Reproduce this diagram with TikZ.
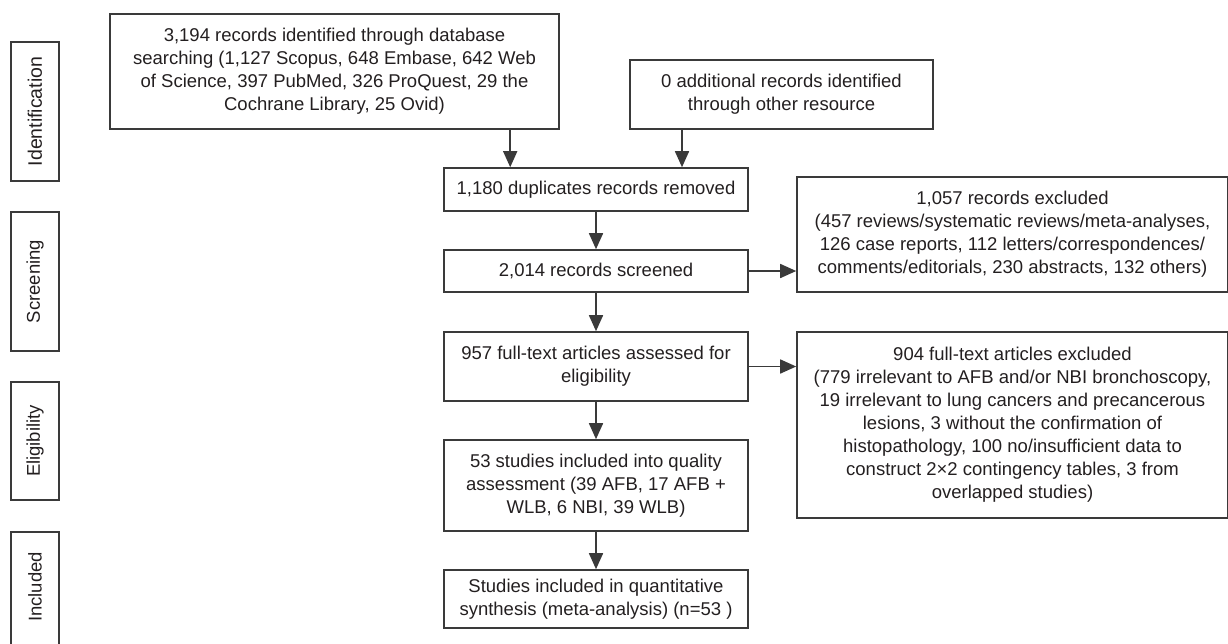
\documentclass[tikz,border=0pt]{standalone}
\usepackage{fontspec}
\setmainfont{Liberation Sans}
\usetikzlibrary{arrows.meta}
\definecolor{ink}{HTML}{231F20}
\definecolor{edge}{HTML}{3A3A3A}
\begin{document}
\begin{tikzpicture}[x=1pt,y=-1pt,
  box/.style={draw=edge,line width=1.6pt,rectangle,inner sep=0pt,align=center,
    text=ink,font=\fontsize{18.5}{23}\selectfont},
  side/.style={draw=edge,line width=1.6pt,rectangle,inner sep=0pt,
    text=ink,font=\fontsize{18.5}{23}\selectfont},
  arr/.style={draw=edge,line width=1.6pt,-{Triangle[length=16pt,width=14pt]}}]
\useasboundingbox (0,0) rectangle (1228,643);
% phase boxes
\node[side,minimum width=48pt,minimum height=139pt] (ident) at (35,111.5) {};
\node[rotate=90,text=ink,font=\fontsize{19.5}{23}\selectfont] (identl) at (ident.center) {Identification};
\node[side,minimum width=48pt,minimum height=139pt] (scr) at (35,281.5) {};
\node[rotate=90,text=ink,font=\fontsize{18.5}{23}\selectfont] (scrl) at (scr.center) {Screening};
\node[side,minimum width=48pt,minimum height=118pt] (elig) at (35,441) {};
\node[rotate=90,text=ink,font=\fontsize{18.5}{23}\selectfont] (eligl) at (elig.center) {Eligibility};
\node[side,minimum width=48pt,minimum height=114pt] (incl) at (35,589) {};
\node[rotate=90,text=ink,font=\fontsize{18.5}{23}\selectfont] (incll) at (35,587) {Included};
% flow boxes
\node[box,minimum width=449pt,minimum height=115pt] (db) at (334.5,71.5)
 {3,194 records identified through database\\searching (1,127 Scopus, 648 Embase, 642 Web\\of Science, 397 PubMed, 326 ProQuest, 29 the\\Cochrane Library, 25 Ovid)};
\node[box,minimum width=303pt,minimum height=69pt] (other) at (781.5,94.5)
 {0 additional records identified\\through other resource};
\node[box,minimum width=304pt,minimum height=43pt] (dup) at (596,189.5)
 {1,180 duplicates records removed};
\node[box,minimum width=304pt,minimum height=42pt] (scrd) at (596,271)
 {2,014 records screened};
\node[box,minimum width=431pt,minimum height=115pt] (ex1) at (1012.5,234.5)
 {1,057 records excluded\\(457 reviews/systematic reviews/meta-analyses,\\126 case reports, 112 letters/correspondences/\\comments/editorials, 230 abstracts, 132 others)};
\node[box,minimum width=304pt,minimum height=69pt] (full) at (596,366.5)
 {957 full-text articles assessed for\\eligibility};
\node[box,minimum width=431pt,minimum height=186pt] (ex2) at (1012.5,425)
 {904 full-text articles excluded\\(779 irrelevant to AFB and/or NBI bronchoscopy,\\19 irrelevant to lung cancers and precancerous\\lesions, 3 without the confirmation of\\histopathology, 100 no/insufficient data to\\construct 2\texttimes2 contingency tables, 3 from\\overlapped studies)};
\node[box,minimum width=304pt,minimum height=91pt] (qual) at (596,485.5)
 {53 studies included into quality\\assessment (39 AFB, 17 AFB +\\WLB, 6 NBI, 39 WLB)};
\node[box,minimum width=304pt,minimum height=58pt] (fin) at (596,599)
 {Studies included in quantitative\\synthesis (meta-analysis) (n=53 )};
% connectors
\draw[arr] (db.south -| dup.west) ++(67,0) coordinate (a1) -- (a1 |- dup.north);
\draw[arr] (other.south) ++(-99.5,0) coordinate (a2) -- (a2 |- dup.north);
\draw[arr] (dup) -- (scrd);
\draw[arr] (scrd) -- (full);
\draw[arr] (full) -- (qual);
\draw[arr] (qual) -- (fin);
\draw[arr] (scrd.east) -- (scrd.east -| ex1.west);
\draw[arr] (full.east) -- (full.east -| ex2.west);
\end{tikzpicture}
\end{document}
